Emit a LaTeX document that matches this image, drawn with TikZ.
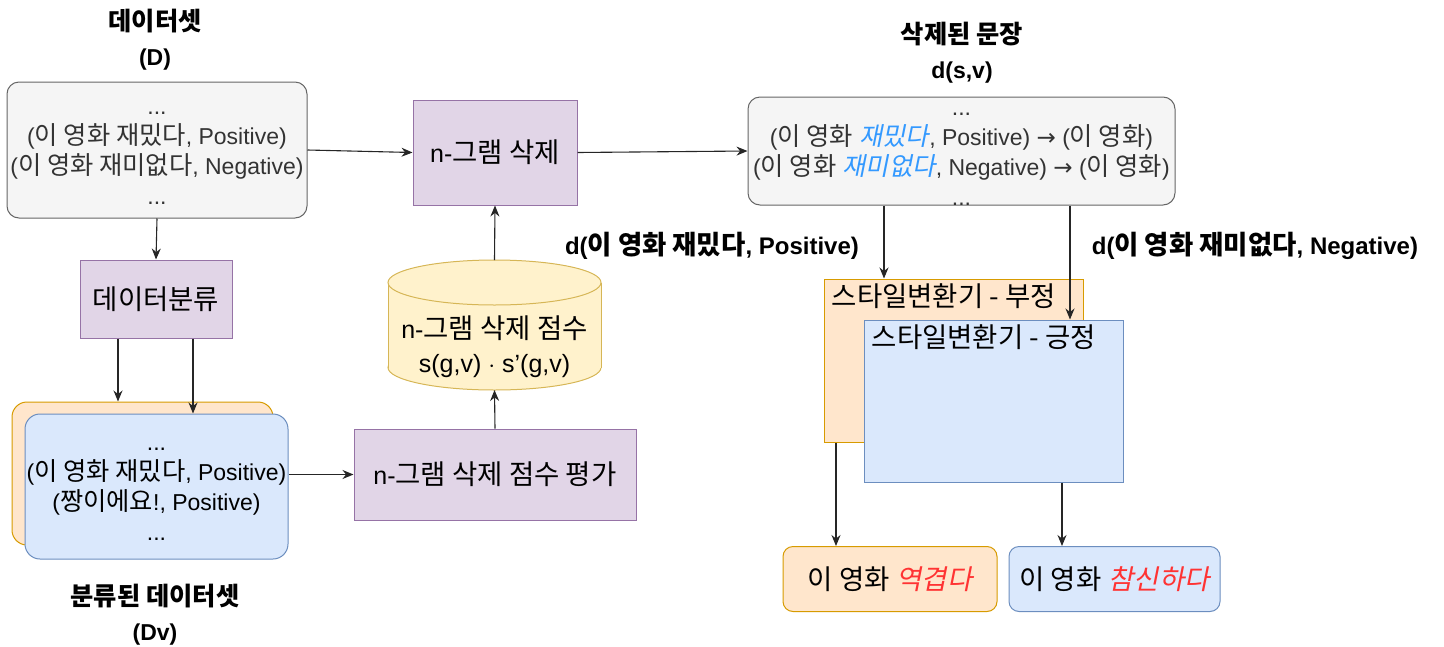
\documentclass[tikz,border=0pt]{standalone}
\usepackage{fontspec}
\setmainfont{Liberation Sans}
\newfontfamily\kr{Noto Sans CJK KR}[Scale=1.1]
\newfontfamily\krsl{Noto Sans CJK KR}[Scale=1.1,FakeSlant=0.2]
\newfontfamily\dvs{DejaVu Sans}
\newcommand\K[1]{{\kr #1}}
\newcommand\KS[1]{{\krsl #1}}
\newcommand\RA{{\dvs →}}
\newcommand\topstrut{\rule{0pt}{18pt}}
\usetikzlibrary{arrows.meta}
\definecolor{gfill}{HTML}{F5F5F5}
\definecolor{gdraw}{HTML}{666666}
\definecolor{gtext}{HTML}{333333}
\definecolor{pfill}{HTML}{E1D5E7}
\definecolor{pdraw}{HTML}{9673A6}
\definecolor{ofill}{HTML}{FFE6CC}
\definecolor{odraw}{HTML}{D79B00}
\definecolor{bfill}{HTML}{DAE8FC}
\definecolor{bdraw}{HTML}{6C8EBF}
\definecolor{yfill}{HTML}{FFF2CC}
\definecolor{ydraw}{HTML}{D6B656}
\definecolor{hblue}{HTML}{3399FF}
\definecolor{hred}{HTML}{FF3333}
\begin{document}
\begin{tikzpicture}[x=1pt,y=-1pt,
  box/.style={draw, line width=1pt, align=center, inner sep=0pt, font=\fontsize{25}{30}\selectfont},
  small/.style={font=\fontsize{23}{30}\selectfont},
  graybox/.style={box, small, fill=gfill, draw=gdraw, rounded corners=12pt, text=gtext},
  purp/.style={box, fill=pfill, draw=pdraw},
  orng/.style={box, fill=ofill, draw=odraw},
  blu/.style={box, fill=bfill, draw=bdraw},
  ttl/.style={align=center, inner sep=0pt, font=\fontsize{23}{35}\selectfont\bfseries},
  lbl/.style={inner sep=0pt, font=\fontsize{24}{30}\selectfont\bfseries},
  tag/.style={anchor=north west, inner sep=0pt, xshift=8pt, yshift=-5pt, font=\fontsize{25}{30}\selectfont},
  arr/.style={-{Stealth[length=11pt,width=9pt]}, line width=1.1pt, draw=black!85}]
\useasboundingbox (0,0) rectangle (1444,646);

% titles
\node[ttl] (tD) at (155,40) {\K{데이터셋}\\(D)};
\node[ttl] (tds) at (962,53) {\K{삭제된 문장}\\d(s,v)};
\node[ttl] (tDv) at (155,615) {\K{분류된 데이터셋}\\(Dv)};

% dataset
\node[graybox, minimum width=300pt, minimum height=136pt] (D) at (157,150)
  {\topstrut...\\(\K{이 영화 재밌다}, Positive)\\(\K{이 영화 재미없다}, Negative)\\...};

% n-gram delete
\node[purp, minimum width=164pt, minimum height=105pt] (del) at (495,152.5) {n-\K{그램 삭제}};

% deleted sentences
\node[graybox, minimum width=427pt, minimum height=108pt] (ds) at (961.5,151)
  {\topstrut...\\(\K{이 영화} {\color{hblue}\KS{재밌다}}, Positive) \RA{} (\K{이 영화})\\(\K{이 영화} {\color{hblue}\KS{재미없다}}, Negative) \RA{} (\K{이 영화})\\...};

% classification
\node[purp, minimum width=152pt, minimum height=78pt] (cls) at (156,299) {\K{데이터분류}};

% classified dataset stack
\node[orng, rounded corners=15pt, minimum width=261pt, minimum height=143pt] (Dvb) at (142.5,473.5) {};
\node[blu, small, rounded corners=15pt, minimum width=263pt, minimum height=145pt] (Dv) at (156.5,486.5)
  {\topstrut...\\(\K{이 영화 재밌다}, Positive)\\(\K{짱이에요}!, Positive)\\...};

% evaluation
\node[purp, minimum width=282pt, minimum height=91pt] (eval) at (495,474.5) {n-\K{그램 삭제 점수 평가}};

% cylinder
\fill[yfill] (494.5,367.5) ellipse [x radius=106.5pt, y radius=22.5pt];
\draw[ydraw, line width=1pt] (494.5,367.5) ellipse [x radius=106.5pt, y radius=22.5pt];
\fill[yfill] (388,282.5) rectangle (601,367.5);
\draw[ydraw, line width=1pt] (388,282.5) -- (388,367.5) (601,282.5) -- (601,367.5);
\draw[ydraw, fill=yfill, line width=1pt] (494.5,282.5) ellipse [x radius=106.5pt, y radius=22.5pt];
\node[align=center, inner sep=0pt, font=\fontsize{25}{34}\selectfont] (db) at (494.5,347)
  {n-\K{그램 삭제 점수}\\s(g,v) $\cdot$ s'(g,v)};
\coordinate (dbtop) at (494.5,260);
\coordinate (dbbot) at (494.5,390);

% style transfer
\node[orng, minimum width=259pt, minimum height=163pt,
  label={[tag]north west:\K{스타일변환기 - 부정}}] (neg) at (953.5,360.5) {};
\node[blu, minimum width=259pt, minimum height=162pt,
  label={[tag]north west:\K{스타일변환기 - 긍정}}] (pos) at (993.5,401) {};

% outputs
\node[orng, rounded corners=10pt, minimum width=214pt, minimum height=65pt] (o1) at (890,579)
  {\K{이 영화} {\color{hred}\KS{역겹다}}};
\node[blu, rounded corners=10pt, minimum width=211pt, minimum height=65pt] (o2) at (1114.5,579)
  {\K{이 영화} {\color{hred}\KS{참신하다}}};

% labels
\node[lbl] (l1) at (712,246) {d(\K{이 영화 재밌다}, Positive)};
\node[lbl] (l2) at (1255,246) {d(\K{이 영화 재미없다}, Negative)};

% connectors
\draw[arr] (D.east) -- (del.west);
\draw[arr] (del.east) -- (ds.west);
\draw[arr] (D.south) -- (cls.north);
\draw[arr] ([xshift=-38pt]cls.south) -- ([xshift=-38pt]cls.south |- Dvb.north);
\draw[arr] ([xshift=37pt]cls.south) -- ([xshift=37pt]cls.south |- Dv.north);
\draw[arr] (Dv.east |- eval.west) -- (eval.west);
\draw[arr] (eval.north) -- (dbbot);
\draw[arr] (dbtop) -- (del.south);
\draw[arr] ([xshift=-77.5pt]ds.south) -- ([xshift=-77.5pt]ds.south |- neg.north);
\draw[arr] ([xshift=108.5pt]ds.south) -- ([xshift=108.5pt]ds.south |- pos.north);
\draw[arr] ([xshift=-117.5pt]neg.south) -- ([xshift=-117.5pt]neg.south |- o1.north);
\draw[arr] ([xshift=68.5pt]pos.south) -- ([xshift=68.5pt]pos.south |- o2.north);
\end{tikzpicture}
\end{document}
